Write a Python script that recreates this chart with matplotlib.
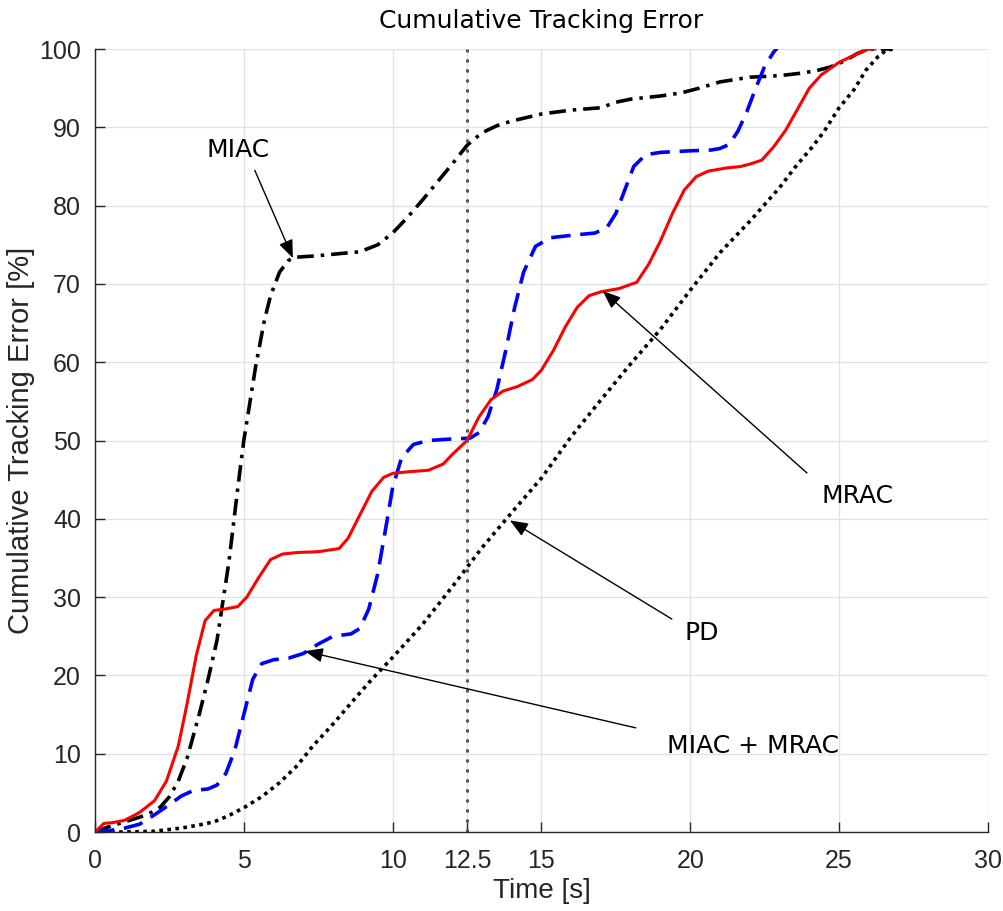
import matplotlib
matplotlib.use("Agg")
import matplotlib.pyplot as plt

# cumulative tracking error of the four controllers, in percent
t_mrac = [0, 0.3, 0.6, 1.0, 1.5, 2.0, 2.4, 2.8, 3.1, 3.4, 3.7, 4.0, 4.4, 4.8, 5.1, 5.5,
          5.9, 6.3, 6.8, 7.5, 8.2, 8.5, 8.9, 9.3, 9.7, 10.0, 10.5, 11.2, 11.7, 12.0,
          12.5, 12.9, 13.3, 13.7, 14.2, 14.7, 15.0, 15.4, 15.8, 16.2, 16.6, 17.0,
          17.6, 18.2, 18.6, 19.0, 19.4, 19.8, 20.2, 20.6, 21.2, 21.7, 22.0, 22.4,
          22.8, 23.2, 23.6, 24.0, 24.4, 25.0, 25.5, 26.0, 26.2]
e_mrac = [0, 1.1, 1.2, 1.5, 2.5, 4.0, 6.5, 11, 16.5, 22.5, 27, 28.3, 28.5, 28.8, 30,
          32.5, 34.8, 35.5, 35.7, 35.8, 36.2, 37.5, 40.5, 43.5, 45.3, 45.8, 46.0, 46.2,
          47.0, 48.2, 50.0, 53.0, 55.2, 56.3, 56.9, 57.8, 59.0, 61.5, 64.5, 67.0, 68.5,
          69.0, 69.4, 70.2, 72.5, 75.5, 79.0, 82.0, 83.7, 84.4, 84.8, 85.0, 85.3, 85.8,
          87.5, 89.6, 92.3, 95.0, 96.7, 98.3, 99.2, 100, 100]

t_both = [0, 0.5, 1.0, 1.5, 2.0, 2.5, 2.9, 3.3, 3.8, 4.1, 4.4, 4.7, 5.0, 5.3, 5.6, 6.0,
          6.5, 7.0, 7.5, 8.0, 8.6, 8.9, 9.2, 9.5, 9.8, 10.0, 10.3, 10.7, 11.2, 12.0,
          12.6, 12.9, 13.2, 13.5, 13.8, 14.1, 14.4, 14.8, 15.3, 16.0, 16.8, 17.2, 17.5,
          17.8, 18.1, 18.5, 19.0, 20.0, 20.7, 21.0, 21.3, 21.6, 21.9, 22.2, 22.5, 22.8,
          23.0]
e_both = [0, 0.2, 0.5, 1.0, 2.2, 3.5, 4.6, 5.3, 5.5, 6.0, 7.5, 10.5, 15.0, 19.5, 21.5,
          22.0, 22.2, 22.8, 24.0, 25.0, 25.3, 26.0, 28.5, 33.0, 39.5, 44.0, 47.8, 49.5,
          50.0, 50.2, 50.3, 51.0, 53.0, 56.5, 61.5, 67.0, 71.5, 74.8, 75.9, 76.2, 76.5,
          77.2, 79.0, 82.0, 85.0, 86.5, 86.8, 87.0, 87.1, 87.3, 87.8, 89.5, 92.0, 95.0,
          97.8, 99.6, 100.5]

t_miac = [0, 0.4, 1.0, 1.75, 2.2, 2.5, 2.8, 3.1, 3.5, 3.8, 4.1, 4.5, 4.8, 5.0, 5.4, 5.7,
          5.9, 6.2, 6.5, 6.7, 7.5, 8.3, 8.9, 9.5, 10.0, 10.5, 11.0, 11.5, 12.0, 12.5,
          13.0, 13.5, 14.0, 15.0, 16.0, 17.0, 17.5, 18.0, 19.0, 19.7, 20.3, 21.0, 22.0,
          23.0, 23.7, 24.2, 24.7, 25.2, 25.6, 26.0, 26.8]
e_miac = [0, 0.6, 1.3, 2.2, 3.2, 4.5, 6.5, 9.5, 15.0, 19.5, 24.5, 34.5, 44.0, 50.0, 59.5,
          65.5, 68.5, 71.5, 73.0, 73.4, 73.6, 73.9, 74.1, 75.0, 76.5, 78.5, 80.7, 83.0,
          85.3, 87.7, 89.3, 90.2, 90.8, 91.7, 92.2, 92.5, 93.2, 93.6, 94.0, 94.4, 95.0,
          95.8, 96.4, 96.6, 96.9, 97.2, 97.7, 98.5, 99.4, 100, 100]

t_pd = [0, 1.0, 2.0, 2.9, 3.5, 4.0, 4.5, 5.0, 5.6, 6.2, 6.8, 7.3, 8.0, 8.7, 9.3, 10.0,
        11.0, 12.0, 12.5, 13.0, 14.0, 15.0, 16.0, 17.0, 18.0, 19.0, 20.0, 21.0, 22.0,
        23.0, 23.5, 24.1, 24.5, 25.0, 25.5, 25.9, 26.3, 26.6, 26.9]
e_pd = [0, 0, 0.1, 0.5, 0.9, 1.3, 2.1, 3.1, 4.5, 6.3, 8.5, 10.9, 13.8, 16.9, 19.5, 22.3,
        26.5, 31.3, 33.8, 36.3, 40.8, 45.2, 50.5, 55.2, 59.8, 64.2, 69.2, 74.0, 78.0,
        82.3, 84.8, 87.5, 89.5, 92.5, 94.8, 97.3, 99.0, 99.9, 100]

t_mark = 12.5
xticks = [0, 5, 10, 12.5, 15, 20, 25, 30]
xtick_labels = ["0", "5", "10", "12.5", "15", "20", "25", "30"]
yticks = list(range(0, 101, 10))

# label, text baseline position (t, e), arrow tail (t, e), arrow tip (t, e)
notes = [
    ("MIAC", (4.8, 86.2), (5.37, 84.5), (6.65, 73.3)),
    ("MRAC", (25.63, 42.0), (23.92, 45.85), (17.06, 69.1)),
    ("PD", (20.39, 24.5), (19.38, 27.2), (13.94, 39.8)),
    ("MIAC + MRAC", (22.1, 10.1), (18.17, 13.3), (7.05, 23.1)),
]

plt.rcParams["lines.scale_dashes"] = False
axis_col = "#262626"
axis_font = "Liberation Sans"

fig = plt.figure(figsize=(10.04, 9.11), dpi=100)
ax = fig.add_axes([0.0946, 0.0867, 0.8894, 0.8595])

ax.plot(t_miac, e_miac, color="black", lw=2.6, linestyle=(0, (12, 5, 2.5, 5)),
        dash_capstyle="butt")
ax.plot(t_pd, e_pd, color="black", lw=2.6, linestyle=(0, (2.6, 3.2)),
        dash_capstyle="butt")
ax.plot(t_both, e_both, color="blue", lw=2.6, linestyle=(0, (14, 7)),
        dash_capstyle="butt")
ax.plot(t_mrac, e_mrac, color="red", lw=2.2)
ax.axvline(t_mark, color="#555555", lw=2.2, linestyle=(0, (2.2, 5)),
           dash_capstyle="butt")

for label, pos, tail, tip in notes:
    ax.text(pos[0], pos[1], label, fontsize=18, ha="center", va="baseline",
            family="DejaVu Sans")
    ax.annotate("", xy=tip, xytext=tail,
                arrowprops=dict(arrowstyle="-|>,head_length=0.55,head_width=0.22",
                                color="black", lw=1, mutation_scale=20,
                                shrinkA=0, shrinkB=0))

ax.set_xlim(0, 30)
ax.set_ylim(0, 100)
ax.set_xticks(xticks)
ax.set_xticklabels(xtick_labels, family=axis_font, fontsize=18, color=axis_col)
ax.set_yticks(yticks)
ax.set_yticklabels([str(v) for v in yticks], family=axis_font, fontsize=18,
                   color=axis_col)
ax.tick_params(direction="in", length=7, width=1, color=axis_col)
ax.tick_params(axis="x", pad=12)
ax.tick_params(axis="y", pad=10)

ax.grid(True, color="#e2e2e2", lw=1)
ax.set_axisbelow(True)
for side in ("top", "right"):
    ax.spines[side].set_visible(False)
for side in ("left", "bottom"):
    ax.spines[side].set_color(axis_col)
    ax.spines[side].set_linewidth(1)

ax.set_xlabel("Time [s]", family=axis_font, fontsize=20, color=axis_col, labelpad=4)
ax.set_ylabel("Cumulative Tracking Error [%]", family=axis_font, fontsize=21,
              color=axis_col, labelpad=3)
ax.set_title("Cumulative Tracking Error", family="DejaVu Sans", fontsize=18, pad=15)

fig.savefig("out.png", dpi=100)
